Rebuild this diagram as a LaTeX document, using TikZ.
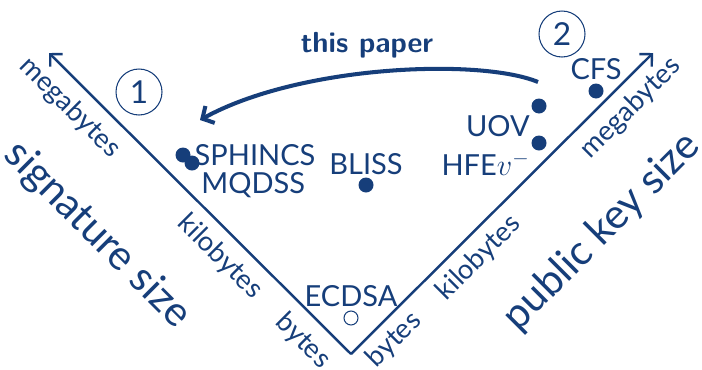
\documentclass[tikz,border=0pt]{standalone}
\usepackage{amsmath}
\usepackage{fontspec}
\setmainfont{Lato}
\usepackage{tikz}
\usetikzlibrary{arrows.meta, positioning}
\usepackage{xcolor}
\definecolor{navy}{RGB}{22,62,122}

\tikzset{
    axis/.style={navy, line width=1.4pt, -{Straight Barb[length=5pt, width=10pt]}},
    scheme/.style={circle, fill=navy, inner sep=0pt, minimum size=0.3cm},
    classic/.style={circle, draw=navy, line width=0.6pt, inner sep=0pt, minimum size=0.28cm},
    scheme label/.style={text=navy, inner sep=2pt, font=\fontsize{16.5}{20}\selectfont},
    unit label/.style={text=navy, inner sep=0pt, font=\fontsize{15.5}{18}\selectfont},
    quantity label/.style={text=navy, inner sep=0pt, font=\fontsize{23.5}{28}\selectfont},
    step number/.style={circle, draw=navy, line width=0.6pt, text=navy, inner sep=0pt,
        minimum size=0.92cm, font=\fontsize{18}{20}\selectfont}
}

\begin{document}
\begin{tikzpicture}[x=0.02cm, y=-0.02cm]
    \useasboundingbox (0,0) rectangle (702,369);
    % Axes
    \coordinate (origin) at (351,354);
    \coordinate (sigtip) at (49,53);
    \coordinate (pktip) at (653,53);
    \draw[axis] (origin) -- (sigtip);
    \draw[axis] (origin) -- (pktip);
    % Axis units
    \node[unit label, rotate=-45] (sigmb) at (70,108) {megabytes};
    \node[unit label, rotate=-45] (sigkb) at (220,257) {kilobytes};
    \node[unit label, rotate=-45] (sigb) at (303,341) {bytes};
    \node[unit label, rotate=45] (pkb) at (394,340) {bytes};
    \node[unit label, rotate=45] (pkkb) at (479,258) {kilobytes};
    \node[unit label, rotate=45] (pkmb) at (631,108) {megabytes};
    \node[quantity label, rotate=-45] (sigsize) at (97,235) {signature size};
    \node[quantity label, rotate=45] (pksize) at (602,232) {public key size};
    % Schemes
    \node[scheme] (sphincs) at (183,155) {};
    \node[scheme] (mqdss) at (192,163) {};
    \node[scheme] (bliss) at (366,185) {};
    \node[scheme] (uov) at (539,106) {};
    \node[scheme] (hfe) at (539,143) {};
    \node[scheme] (cfs) at (596,91) {};
    \node[classic] (ecdsa) at (351,318) {};
    \node[scheme label, right=0pt of sphincs] (sphincslbl) {SPHINCS};
    \node[scheme label, below right=0pt of mqdss] (mqdsslbl) {MQDSS};
    \node[scheme label, above=-1pt of bliss] (blisslbl) {BLISS};
    \node[scheme label, below left=0pt of uov] (uovlbl) {UOV};
    \node[scheme label, below left=0pt of hfe] (hfelbl) {HFE$v^-$};
    \node[scheme label, above=0pt of cfs] (cfslbl) {CFS};
    \node[scheme label, above=0pt of ecdsa] (ecdsalbl) {ECDSA};
    % Steps
    \node[step number] (one) at (139,92) {1};
    \node[step number] (two) at (562,34) {2};
    % This paper
    \coordinate (from) at (538,82);
    \coordinate (to) at (200,120);
    \draw[navy, line width=2.3pt, -{Straight Barb[length=5pt, width=11pt]}]
        (from) .. controls (480,58) and (300,65) .. (to);
    \node[text=navy, font=\sffamily\bfseries\fontsize{16.5}{18}\selectfont] (paper) at (367,45) {this paper};
\end{tikzpicture}
\end{document}
